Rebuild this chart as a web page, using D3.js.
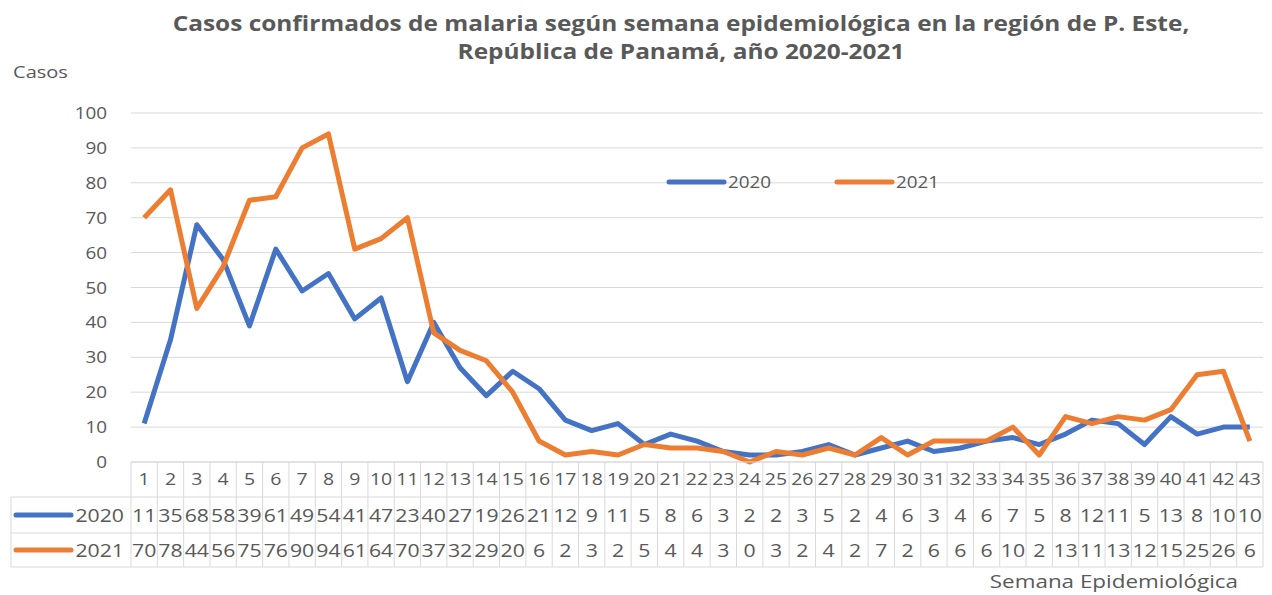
<!DOCTYPE html>
<html>
<head>
<meta charset="utf-8">
<script src="https://cdn.jsdelivr.net/npm/d3@7"></script>
<style>
  body { margin: 0; background: #fff; }
  text { font-family: "Open Sans", sans-serif; fill: #595959; }
</style>
</head>
<body>
<div id="chart"></div>
<script>
/* CONSTANTS AND GLOBALS */
const width = 1272;
const height = 595;
const margin = { top: 113, right: 9, bottom: 133, left: 131 };
const sx = 1.18; // the source picture is stretched sideways

/* DATA */
const weeks = d3.range(1, 44);
const cases2020 = [11, 35, 68, 58, 39, 61, 49, 54, 41, 47, 23, 40, 27, 19, 26, 21, 12, 9, 11, 5,
  8, 6, 3, 2, 2, 3, 5, 2, 4, 6, 3, 4, 6, 7, 5, 8, 12, 11, 5, 13, 8, 10, 10];
const cases2021 = [70, 78, 44, 56, 75, 76, 90, 94, 61, 64, 70, 37, 32, 29, 20, 6, 2, 3, 2, 5,
  4, 4, 3, 0, 3, 2, 4, 2, 7, 2, 6, 6, 6, 10, 2, 13, 11, 13, 12, 15, 25, 26, 6];
const seriesNames = ["2020", "2021"];
const colors = ["#4472C4", "#ED7D31"];
const yTicks = d3.range(0, 101, 10);
const titleLines = ["Casos confirmados de malaria según semana epidemiológica en la región de P. Este,",
  "República de Panamá, año 2020-2021"];

const series = seriesNames.map((name, i) => ({
  name, color: colors[i], values: i === 0 ? cases2020 : cases2021
}));

const svg = d3.select("#chart")
  .append("svg")
  .attr("width", width)
  .attr("height", height);

// text helper, squeezes the glyphs wider like the picture
function label(g, x, y, txt, size, anchor, weight) {
  return g.append("text")
    .attr("transform", `translate(${x},${y}) scale(${sx},1)`)
    .attr("text-anchor", anchor || "start")
    .style("font-size", size + "px")
    .style("font-weight", weight || "normal")
    .text(txt);
}

/* SCALES */
const xScale = d3.scaleBand()
  .domain(weeks)
  .range([margin.left, width - margin.right]);

const yScale = d3.scaleLinear()
  .domain([0, 100])
  .range([462, margin.top]);

const x = d => xScale(d) + xScale.bandwidth() / 2;

/* GRID + Y AXIS */
svg.selectAll(".grid")
  .data(yTicks)
  .join("line")
  .attr("x1", margin.left)
  .attr("x2", width - margin.right)
  .attr("y1", d => yScale(d))
  .attr("y2", d => yScale(d))
  .attr("stroke", "#D9D9D9")
  .attr("stroke-width", 1);

yTicks.forEach(t => label(svg, 107, yScale(t) + 6, t, 16, "end"));

/* TITLE */
titleLines.forEach((t, i) => label(svg, 681, 31 + i * 28, t, 20.7, "middle", "bold"));
label(svg, 13, 78, "Casos", 17);
label(svg, 1238, 588, "Semana Epidemiológica", 19, "end");

/* LINES */
const line = d3.line()
  .x((d, i) => x(weeks[i]))
  .y(d => yScale(d));

svg.selectAll(".series")
  .data(series)
  .join("path")
  .attr("fill", "none")
  .attr("stroke", d => d.color)
  .attr("stroke-width", 5)
  .attr("stroke-linejoin", "round")
  .attr("d", d => line(d.values));

/* LEGEND */
const legendX = [669, 837];
series.forEach((s, i) => {
  svg.append("line")
    .attr("x1", legendX[i]).attr("x2", legendX[i] + 55)
    .attr("y1", 182).attr("y2", 182)
    .attr("stroke", s.color).attr("stroke-width", 5)
    .attr("stroke-linecap", "round");
  label(svg, legendX[i] + 59, 188, s.name, 16);
});

/* DATA TABLE */
const rowY = [462, 497, 533, 567];
const tableLeft = 11;
const gridColor = "#D9D9D9";
const table = svg.append("g");

// horizontal rules
table.append("line")
  .attr("x1", margin.left).attr("x2", width - margin.right)
  .attr("y1", rowY[0]).attr("y2", rowY[0])
  .attr("stroke", gridColor);
rowY.slice(1).forEach(y => table.append("line")
  .attr("x1", tableLeft).attr("x2", width - margin.right)
  .attr("y1", y).attr("y2", y)
  .attr("stroke", gridColor));

// vertical rules
table.selectAll(".vcol")
  .data(weeks.concat([null]))
  .join("line")
  .attr("x1", d => d === null ? width - margin.right : xScale(d))
  .attr("x2", d => d === null ? width - margin.right : xScale(d))
  .attr("y1", rowY[0]).attr("y2", rowY[3])
  .attr("stroke", gridColor);
table.append("line")
  .attr("x1", tableLeft).attr("x2", tableLeft)
  .attr("y1", rowY[1]).attr("y2", rowY[3])
  .attr("stroke", gridColor);

// week header
weeks.forEach(w => label(table, x(w), 485, w, 16.5, "middle"));

// series rows
series.forEach((s, i) => {
  const cy = (rowY[i + 1] + rowY[i + 2]) / 2;
  table.append("line")
    .attr("x1", 16).attr("x2", 71)
    .attr("y1", cy).attr("y2", cy)
    .attr("stroke", s.color).attr("stroke-width", 5)
    .attr("stroke-linecap", "round");
  label(table, 124, cy + 7, s.name, 18, "end");
  s.values.forEach((v, j) => label(table, x(weeks[j]), cy + 7, v, 18, "middle"));
});
</script>
</body>
</html>
